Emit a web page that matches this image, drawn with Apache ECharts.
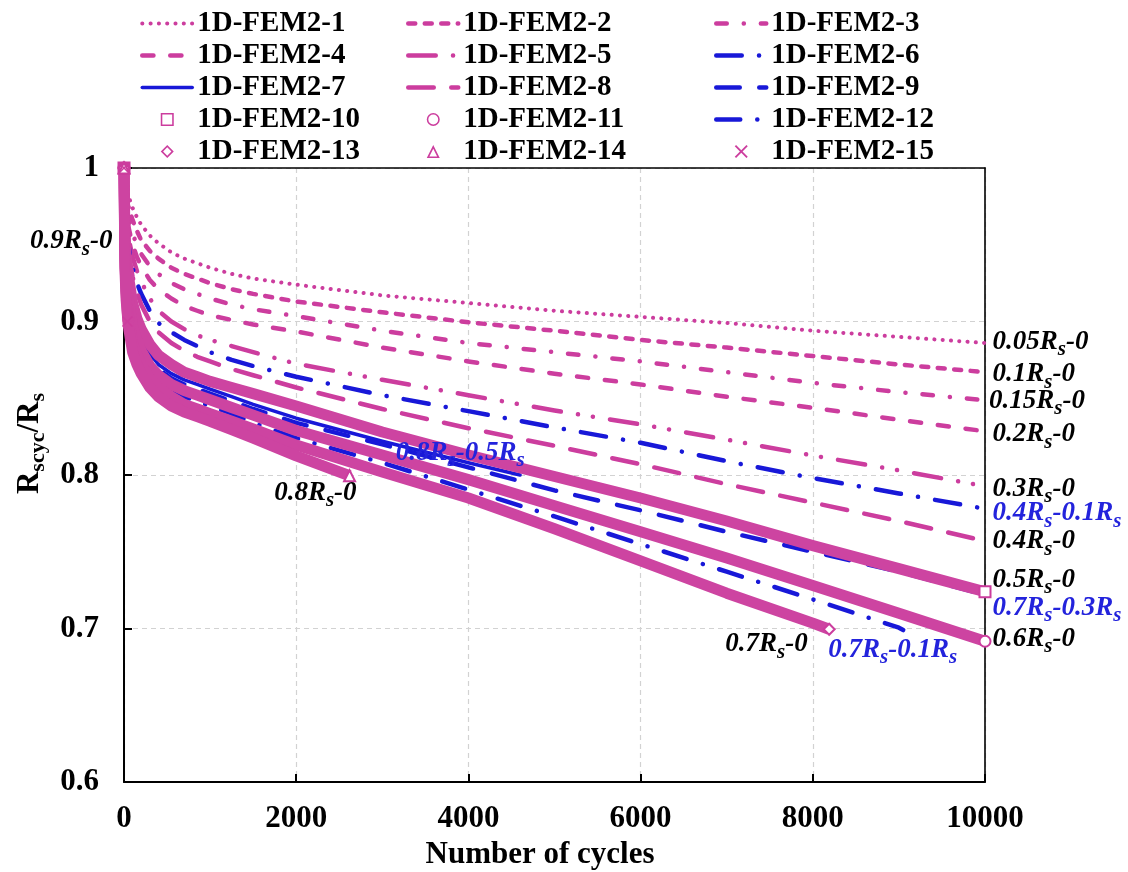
<!DOCTYPE html>
<html>
<head>
<meta charset="utf-8">
<script src="https://cdn.jsdelivr.net/npm/echarts@6/dist/echarts.min.js"></script>
<style>html,body{margin:0;padding:0;background:#fff}#c{width:1128px;height:872px}</style>
</head>
<body>
<div id="c"></div>
<script>
// ---------- DATA ----------
const seriesNames = ['1D-FEM2-1','1D-FEM2-2','1D-FEM2-3','1D-FEM2-4','1D-FEM2-5','1D-FEM2-6','1D-FEM2-7','1D-FEM2-8',
  '1D-FEM2-9','1D-FEM2-10','1D-FEM2-11','1D-FEM2-12','1D-FEM2-13','1D-FEM2-14','1D-FEM2-15'];

const cycles   = [0,10,25,50,100,150,200,300,400,550,700,850,1000,1250,1500,2000,3000,4000,5000,6000,7000,8000,9000,10000];
const cycles7  = [0,10,25,50,100,150,200,300,400,550,700,850,1000,1250,1500,2000,3000,4000,4600];
const cycles12 = [0,10,25,50,100,150,200,300,400,550,700,850,1000,1250,1500,2000,3000,4000,5000,6000,7000,8000,9000,9050];
const cycles13 = [0,10,25,50,100,150,200,300,400,550,700,850,1000,1250,1500,2000,3000,4000,5000,6000,7000,8000,8190];
const cycles14 = [0,10,25,50,100,150,200,300,400,550,700,850,1000,1250,1500,2000,2620];
const cycles15 = [0,1,5,10,20,40];

const fem1  = [1.0,0.990,0.986,0.982,0.974,0.968,0.963,0.956,0.951,0.945,0.941,0.938,0.935,0.931,0.928,0.924,0.917,0.912,0.907,0.903,0.899,0.894,0.890,0.886];
const fem2  = [1.0,0.986,0.980,0.975,0.966,0.959,0.953,0.946,0.941,0.935,0.931,0.928,0.925,0.921,0.918,0.913,0.906,0.8995,0.894,0.888,0.883,0.8775,0.872,0.867];
const fem3  = [1.0,0.982,0.974,0.968,0.957,0.950,0.944,0.936,0.931,0.925,0.921,0.918,0.915,0.911,0.908,0.9035,0.894,0.886,0.880,0.874,0.867,0.860,0.854,0.8487];
const fem4  = [1.0,0.978,0.969,0.962,0.950,0.942,0.936,0.927,0.921,0.915,0.910,0.907,0.904,0.901,0.898,0.8935,0.883,0.874,0.866,0.859,0.851,0.8438,0.836,0.8285];
const fem5  = [1.0,0.972,0.962,0.955,0.942,0.933,0.926,0.915,0.907,0.900,0.895,0.891,0.888,0.884,0.880,0.8725,0.862,0.852,0.842,0.833,0.823,0.8127,0.803,0.7927];
const fem6  = [1.0,0.970,0.958,0.950,0.935,0.925,0.918,0.907,0.899,0.893,0.888,0.884,0.880,0.875,0.871,0.864,0.852,0.8416,0.831,0.821,0.809,0.798,0.788,0.778];
const fem7  = [1.0,0.955,0.938,0.924,0.905,0.896,0.889,0.879,0.872,0.866,0.862,0.859,0.856,0.851,0.846,0.837,0.822,0.808,0.800];
const fem8  = [1.0,0.968,0.955,0.945,0.929,0.919,0.911,0.900,0.893,0.886,0.881,0.877,0.874,0.869,0.865,0.857,0.843,0.8305,0.819,0.807,0.794,0.782,0.770,0.757];
const fem9  = [1.0,0.952,0.934,0.920,0.902,0.893,0.886,0.876,0.869,0.863,0.859,0.856,0.853,0.848,0.843,0.834,0.820,0.805,0.790,0.777,0.763,0.750,0.737,0.722];
const fem10 = [1.0,0.960,0.943,0.930,0.912,0.902,0.895,0.885,0.878,0.872,0.867,0.864,0.861,0.857,0.853,0.845,0.828,0.813,0.799,0.785,0.770,0.754,0.739,0.7239];
const fem11 = [1.0,0.948,0.930,0.915,0.897,0.888,0.881,0.871,0.865,0.859,0.855,0.852,0.849,0.844,0.839,0.829,0.813,0.797,0.780,0.763,0.746,0.728,0.710,0.6917];
const fem12 = [1.0,0.944,0.925,0.910,0.892,0.883,0.877,0.867,0.861,0.855,0.851,0.848,0.845,0.840,0.834,0.824,0.808,0.7905,0.773,0.755,0.737,0.719,0.7005,0.699];
const fem13 = [1.0,0.940,0.920,0.904,0.886,0.878,0.872,0.863,0.857,0.851,0.846,0.843,0.840,0.835,0.830,0.8195,0.802,0.785,0.765,0.744,0.723,0.7035,0.6995];
const fem14 = [1.0,0.935,0.914,0.897,0.880,0.872,0.866,0.857,0.851,0.845,0.841,0.838,0.835,0.8295,0.824,0.8125,0.7995];
const fem15 = [1.0,0.975,0.950,0.935,0.918,0.900];

const endLabels = ['0.05Rs-0','0.1Rs-0','0.15Rs-0','0.2Rs-0','0.3Rs-0','0.4Rs-0.1Rs','0.8Rs-0.5Rs','0.4Rs-0',
  '0.7Rs-0.3Rs','0.5Rs-0','0.6Rs-0','0.7Rs-0.1Rs','0.7Rs-0','0.8Rs-0','0.9Rs-0'];

const xMin = 0, xMax = 10000, xStep = 2000;
const yMin = 0.6, yMax = 1.0, yStep = 0.1;

// ---------- STYLE ----------
const PINK = '#CC3D9E', BAND = '#CD44A1', BLUE = '#1818D8', LBLUE = '#2323DC';
const FONT = '"Liberation Serif","Times New Roman",serif';
const CROSS = 'path://M1,0L5,4L9,0L10,1L6,5L10,9L9,10L5,6L1,10L0,9L4,5L0,1Z';
const ICON_RECT = 'path://M0,0L10,0L10,10L0,10Z M1.2,1.2L1.2,8.8L8.8,8.8L8.8,1.2Z';
const ICON_CIRC = 'path://M5,0A5,5 0 1,1 5,10A5,5 0 1,1 5,0Z M5,1.2A3.8,3.8 0 1,0 5,8.8A3.8,3.8 0 1,0 5,1.2Z';
const ICON_DIAM = 'path://M5,0L10,5L5,10L0,5Z M5,1.8L1.8,5L5,8.2L8.2,5Z';
const ICON_TRI  = 'path://M5,0L10,10L0,10Z M5,2.8L2,8.9L8,8.9Z';

const xs = [cycles,cycles,cycles,cycles,cycles,cycles,cycles7,cycles,cycles,cycles,cycles,cycles12,cycles13,cycles14,cycles15];
const ys = [fem1,fem2,fem3,fem4,fem5,fem6,fem7,fem8,fem9,fem10,fem11,fem12,fem13,fem14,fem15];

const look = [
  {c:PINK, dash:[0.1,8.2], w:4},
  {c:PINK, dash:[7,9.5], w:4.5},
  {c:PINK, dash:[10.5,17,0.1,17], w:4.5},
  {c:PINK, dash:[11.2,16.8], w:4.5},
  {c:PINK, dash:[27.5,17.25,0.1,15,0.1,17.25], w:4.5},
  {c:BLUE, dash:[25.5,17.25,0.1,17.25], w:4.5},
  {c:BLUE, dash:'solid', w:3.5},
  {c:PINK, dash:[25.5,17.5], w:4.5},
  {c:BLUE, dash:[23.5,19.5], w:4.5},
  {c:PINK, marker:'emptyRect', icon:ICON_RECT, w:11},
  {c:PINK, marker:'emptyCircle', icon:ICON_CIRC, w:11},
  {c:BLUE, dash:[24,17,0.1,17], w:4.5},
  {c:PINK, marker:'emptyDiamond', icon:ICON_DIAM, w:11},
  {c:PINK, marker:'emptyTriangle', icon:ICON_TRI, w:11},
  {c:PINK, marker:CROSS, icon:CROSS, w:10}
];
// label placement: [side, dx, dy, color]
const lblPos = [
  ['right',7.5,-1,'#000'], ['right',7.5,2,'#000'], ['right',4,0.5,'#000'], ['right',7.5,3,'#000'],
  ['right',7.5,2.5,'#000'], ['right',7.5,4.5,LBLUE], ['left',4.5,-22,LBLUE], ['right',7.5,0.5,'#000'],
  ['right',7.5,13,LBLUE], ['right',7.5,-12,'#000'], ['right',7.5,-2.5,'#000'], ['right',-75,20,LBLUE],
  ['left',-21.5,15,'#000'], ['left',7,17,'#000'], ['left',-15,-80,'#000']
];

function richText(t){
  const parts = t.split('Rs');
  return parts.map((p,i)=> i < parts.length-1 ? '{b|'+p+'R}{s|s}' : (p ? '{b|'+p+'}' : '')).join('');
}

const series = ys.map((vals,i)=>{
  const L = look[i];
  const xArr = xs[i];
  const last = vals.length-1;
  const [side,dx,dy,lc] = lblPos[i];
  const s = {
    name: seriesNames[i], type:'line', clip:false, animation:false, smooth:false,
    lineStyle:{color: L.marker ? BAND : L.c, width:L.w, type: L.marker ? 'solid' : L.dash, cap: L.marker ? 'butt' : 'round', join:'round'},
    itemStyle:{color:L.c, borderWidth:1.5},
    z: L.marker ? 3 : 2,
    markPoint:{
      symbol:'circle', symbolSize:0, silent:true, animation:false,
      data:[{coord:[xArr[last], vals[last]],
        label:{show:true, position:side, distance:0, offset:[dx,dy], color:lc,
          formatter: richText(endLabels[i]),
          rich:{
            b:{fontFamily:FONT, fontWeight:'bold', fontStyle:'italic', fontSize:27, lineHeight:27, color:lc},
            s:{fontFamily:FONT, fontWeight:'bold', fontStyle:'italic', fontSize:21, lineHeight:21, padding:[16,0,0,0], color:lc}
          }}}]
    }
  };
  if (L.marker){
    s.symbol = L.marker; s.symbolSize = 11; s.showSymbol = true;
    s.data = xArr.map((x,j)=> (j===0 || j===last) ? [x, vals[j]] : {value:[x, vals[j]], symbol:'none'});
    if (L.marker === CROSS) s.itemStyle = {color:L.c};
  } else {
    s.symbol = 'none';
    s.data = xArr.map((x,j)=>[x, vals[j]]);
  }
  return s;
});

function legendItem(i){
  const L = look[i];
  return L.marker ? {name:seriesNames[i], icon:L.icon, itemStyle:{opacity:1, color:L.c}} : {name:seriesNames[i]};
}
const legendText = {fontFamily:FONT, fontWeight:'bold', fontSize:29, color:'#000'};
const legendBase = {orient:'vertical', top:9, itemWidth:50, itemHeight:13, itemGap:3, padding:0,
  textStyle:legendText, itemStyle:{opacity:0}, lineStyle:{width:'inherit'}, selectedMode:false, symbolKeepAspect:true};
const legends = [[0,3,6,9,12],[1,4,7,10,13],[2,5,8,11,14]].map((col,k)=>
  Object.assign({}, legendBase, {left:[140,406,714][k], data:col.map(legendItem)}));

const axisLabelStyle = {fontFamily:FONT, fontWeight:'bold', fontSize:31, color:'#000'};
const frameAxis = {show:true, axisLine:{show:true, onZero:false, lineStyle:{color:'#000', width:1.6}},
  axisTick:{show:false}, axisLabel:{show:false}, splitLine:{show:false}};

const option = {
  animation:false,
  backgroundColor:'#fff',
  legend: legends,
  grid:{left:124, right:143, top:168, bottom:90, show:false, containLabel:false, outerBoundsMode:'none'},
  xAxis:[{type:'value', min:xMin, max:xMax, interval:xStep, position:'bottom',
    name:'Number of cycles', nameLocation:'middle', nameGap:57,
    nameTextStyle:{fontFamily:FONT, fontWeight:'bold', fontSize:31, color:'#000', padding:[0,29,0,0]},
    axisLine:{show:true, onZero:false, lineStyle:{color:'#000', width:2}},
    axisTick:{show:true, inside:true, length:8, lineStyle:{color:'#000', width:2}},
    axisLabel:{margin:21, formatter:(v)=>String(v), ...axisLabelStyle},
    splitLine:{show:true, lineStyle:{color:'#d2d2d2', width:1.2, type:[5,4]}}
  }, Object.assign({type:'value', min:xMin, max:xMax, interval:xStep, position:'top'}, frameAxis)],
  yAxis:[{type:'value', min:yMin, max:yMax, interval:yStep, position:'left',
    name:'{r|R}{s|scyc}{r|/R}{s|s}', nameLocation:'middle', nameGap:77,
    nameTextStyle:{padding:[0,0,0,63], rich:{
      r:{fontFamily:FONT, fontWeight:'bold', fontSize:31, lineHeight:31, color:'#000'},
      s:{fontFamily:FONT, fontWeight:'bold', fontSize:22, lineHeight:22, padding:[16,0,0,0], color:'#000'}}},
    axisLine:{show:true, onZero:false, lineStyle:{color:'#000', width:2}},
    axisTick:{show:true, inside:true, length:8, lineStyle:{color:'#000', width:2}},
    axisLabel:{margin:25, formatter:(v)=>String(Math.round(v*10)/10), ...axisLabelStyle},
    splitLine:{show:true, lineStyle:{color:'#d2d2d2', width:1.2, type:[5,4]}}
  }, Object.assign({type:'value', min:yMin, max:yMax, interval:yStep, position:'right'}, frameAxis)],
  series: series
};

const chart = echarts.init(document.getElementById('c'), null, {renderer:'canvas', width:1128, height:872});
chart.setOption(option);
</script>
</body>
</html>
